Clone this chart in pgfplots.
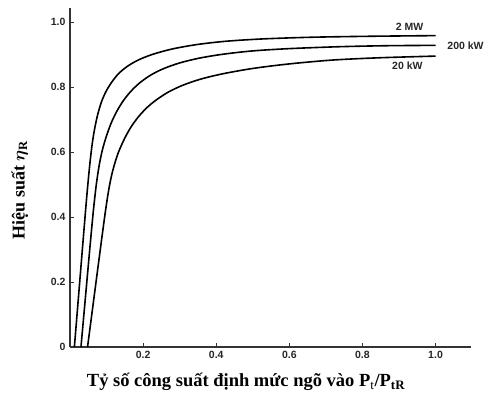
\documentclass[border=0pt]{standalone}
\usepackage{pgfplots}
\pgfplotsset{compat=1.18}
\usepackage{bm}
\usepackage{fontspec}
\setmainfont{Liberation Serif}
\newfontfamily\arialf{Liberation Sans}
\begin{document}
\begin{tikzpicture}
\begin{axis}[
  at={(0,0)}, anchor=south west,
  scale only axis, width=401pt, height=339pt,
  xmin=0, xmax=1.097, ymin=0, ymax=1.043,
  axis lines=left,
  axis line style={line width=1.2pt, draw=black!80, -},
  tick style={line width=0.9pt, black!80},
  tick align=inside, major tick length=4pt,
  xtick={0.2,0.4,0.6,0.8,1.0},
  xticklabels={0.2,0.4,0.6,0.8,1.0},
  ytick={0,0.2,0.4,0.6,0.8,1.0},
  yticklabels={0,0.2,0.4,0.6,0.8,1.0},
  ticklabel style={font=\arialf\fontsize{10.5}{12}\selectfont\bfseries, black!85},
  xticklabel style={yshift=-1pt},
  yticklabel style={xshift=-1pt},
  xlabel={\bfseries Tỷ số công suất định mức ngõ vào P$_{\mathrm{t}}$/P$_{\mathbf{tR}}$},
  xlabel style={font=\fontsize{18.5}{20}\selectfont, at={(axis description cs:0.439,-0.103)}, anchor=center},
  ylabel={\bfseries Hiệu suất $\bm{\eta}_{\mathbf{R}}$},
  ylabel style={font=\fontsize{18}{20}\selectfont, at={(axis description cs:-0.125,0.463)}, anchor=center},
  clip=false,
]
% 2 MW
\addplot[black, line width=1.6pt, smooth] coordinates {
 (0.012,0) (0.024,0.165) (0.036,0.33) (0.046,0.465) (0.054,0.56) (0.061,0.627) (0.068,0.675) (0.076,0.716) (0.086,0.754) (0.098,0.785) (0.113,0.813) (0.132,0.840) (0.155,0.862) (0.185,0.882) (0.225,0.900) (0.28,0.917) (0.35,0.931) (0.43,0.941) (0.53,0.948) (0.66,0.953) (0.82,0.956) (1.0,0.958)
};
% 200 kW
\addplot[black, line width=1.6pt, smooth] coordinates {
 (0.030,0) (0.042,0.15) (0.054,0.30) (0.064,0.42) (0.072,0.50) (0.080,0.56) (0.089,0.608) (0.100,0.650) (0.113,0.690) (0.128,0.725) (0.146,0.758) (0.166,0.786) (0.19,0.812) (0.22,0.836) (0.255,0.856) (0.30,0.874) (0.355,0.889) (0.42,0.901) (0.50,0.911) (0.60,0.918) (0.74,0.924) (0.87,0.927) (1.0,0.928)
};
% 20 kW
\addplot[black, line width=1.6pt, smooth] coordinates {
 (0.048,0) (0.066,0.155) (0.085,0.318) (0.097,0.418) (0.106,0.484) (0.115,0.534) (0.126,0.578) (0.135,0.606) (0.150,0.643) (0.167,0.677) (0.187,0.708) (0.21,0.736) (0.237,0.761) (0.27,0.785) (0.31,0.806) (0.36,0.825) (0.42,0.841) (0.50,0.857) (0.60,0.871) (0.72,0.883) (0.85,0.890) (1.0,0.895)
};
\node[font=\arialf\fontsize{10.5}{12}\selectfont\bfseries, black!85] at (axis cs:0.929,0.985) {2 MW};
\node[font=\arialf\fontsize{10.5}{12}\selectfont\bfseries, black!85] at (axis cs:1.082,0.926) {200 kW};
\node[font=\arialf\fontsize{10.5}{12}\selectfont\bfseries, black!85] at (axis cs:0.923,0.865) {20 kW};
\end{axis}
\path[use as bounding box] (-70pt,-46pt) rectangle (417pt,347pt);
\end{tikzpicture}
\end{document}
